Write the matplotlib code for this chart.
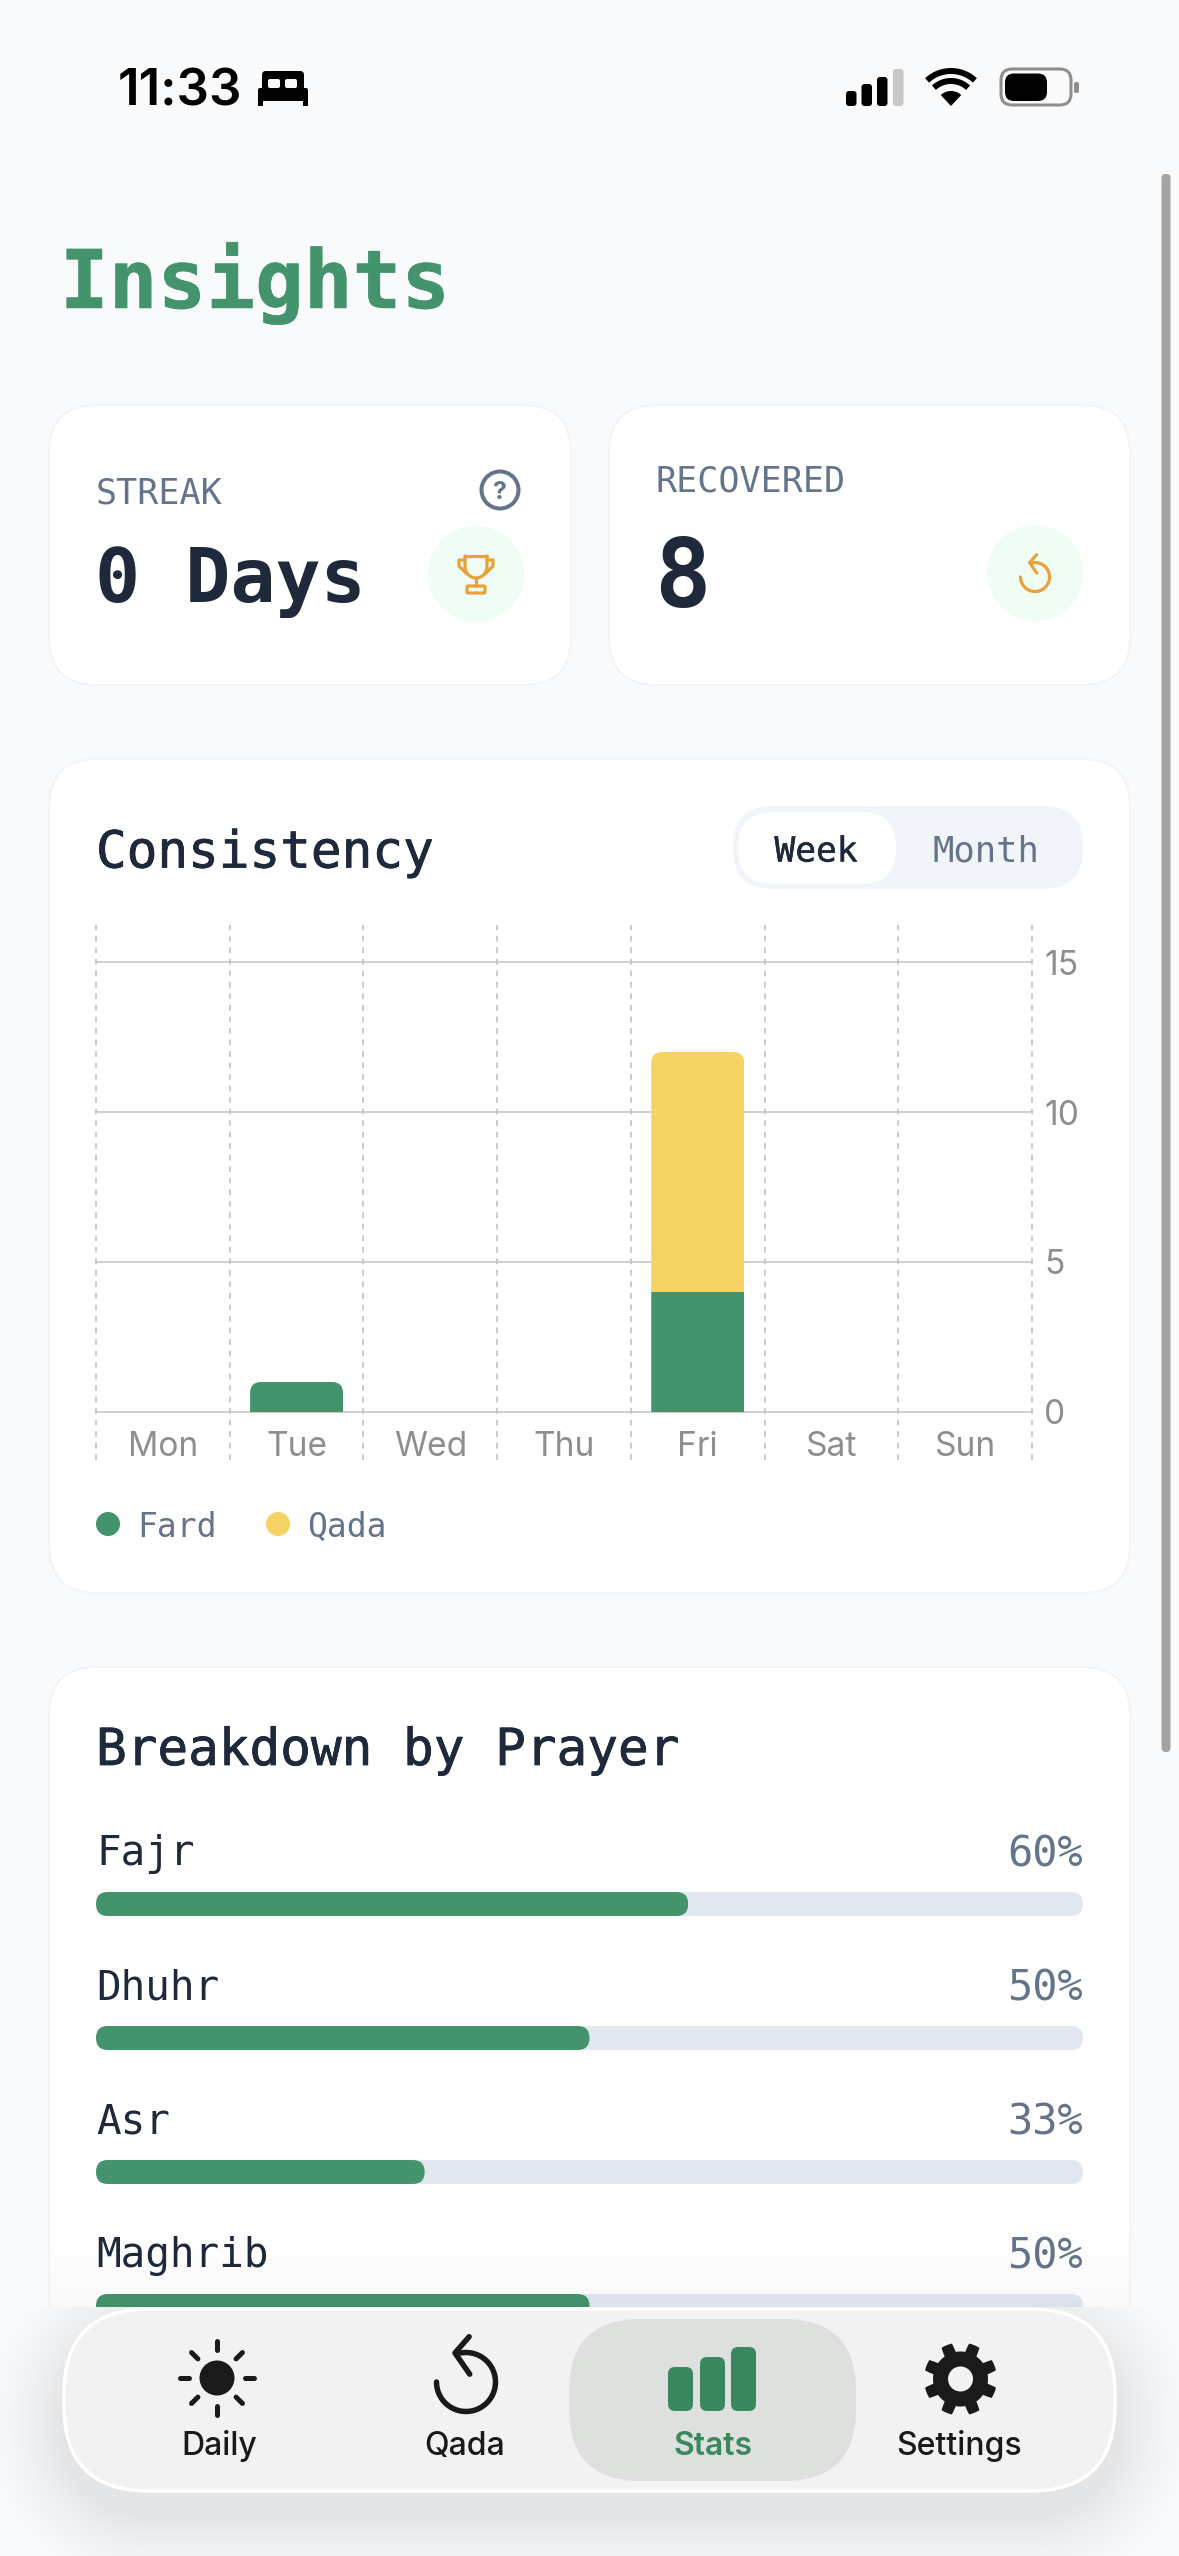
import numpy as np
import matplotlib
matplotlib.use("Agg")
import matplotlib.pyplot as plt
import matplotlib.patheffects as pe
from matplotlib.patches import FancyBboxPatch, Circle, Rectangle, Polygon

W, H = 1179, 2556
days = ["Mon", "Tue", "Wed", "Thu", "Fri", "Sat", "Sun"]
fard = [0, 1, 0, 0, 4, 0, 0]
qada = [0, 0, 0, 0, 8, 0, 0]
y_ticks = [0, 5, 10, 15]
prayers = ["Fajr", "Dhuhr", "Asr", "Maghrib"]
percents = [60, 50, 33.3, 50]
nav_labels = ["Daily", "Qada", "Stats", "Settings"]

MONO = "DejaVu Sans Mono"
SANS = "Inter"
BG = "#f8fafc"; INK = "#1e293b"; SLATE = "#64748b"; GREEN = "#43946c"; YEL = "#f5d365"
ORANGE = "#e9a23b"; DARK = "#1a1a1a"

fig = plt.figure(figsize=(W/72, H/72), dpi=72, facecolor=BG)

def px_axes(x0, y0, x1, y1, z):
    a = fig.add_axes([x0/W, 1-y1/H, (x1-x0)/W, (y1-y0)/H], zorder=z)
    a.patch.set_visible(False)
    return a

base = px_axes(0, 0, W, H, 0)
base.set_xlim(0, W); base.set_ylim(H, 0); base.axis("off")

def rbox(a, x0, y0, x1, y1, r, fc, ec="none", lw=0, z=1, **kw):
    p = FancyBboxPatch((x0, y0), x1-x0, y1-y0, boxstyle=f"round,pad=0,rounding_size={r}",
                       fc=fc, ec=ec, lw=lw, zorder=z, **kw)
    a.add_patch(p)
    return p

def line(a, xs, ys, c, lw, z=5):
    a.plot(xs, ys, color=c, lw=lw, solid_capstyle="round", solid_joinstyle="round", zorder=z)

def medium(t, w=0.8):
    t.set_path_effects([pe.withStroke(linewidth=w, foreground=t.get_color())])
    return t

# ---------- status bar
base.text(118, 106, "11:33", fontsize=51, family=SANS, weight=600, color="black", va="baseline", ha="left")
rbox(base, 262, 71, 304, 92, 4, "black")
rbox(base, 268, 79, 280, 88, 2, BG, z=2)
rbox(base, 285, 79, 297, 88, 2, BG, z=2)
rbox(base, 258, 88, 308, 101, 2, "black", z=3)
base.add_patch(Rectangle((258, 100), 5, 6, fc="black", lw=0))
base.add_patch(Rectangle((303, 100), 5, 6, fc="black", lw=0))
for bx, top_, col in [(846, 91, "black"), (861.5, 84, "black"), (877, 77, "black"), (893, 69, "#c8c8c8")]:
    rbox(base, bx, top_, bx+10.5, 106, 3, col)
cx, cy = 951, 106
th = np.radians(np.linspace(47, 133, 30))
base.add_patch(Polygon(np.r_[[[cx, cy]], np.c_[cx+15*np.cos(th), cy-15*np.sin(th)]], fc="black", lw=0))
for rr, lw_ in [(25, 6), (35, 6)]:
    base.plot(cx+rr*np.cos(th), cy-rr*np.sin(th), color="black", lw=lw_, solid_capstyle="butt")
rbox(base, 1001, 69, 1071, 105, 11, "none", ec="#8e8e8e", lw=3)
rbox(base, 1005, 73.5, 1047, 101, 9, "black")
rbox(base, 1074, 82, 1079, 93, 2, "#8e8e8e")

# scrollbar
rbox(base, 1161.5, 174, 1170.5, 1752, 4, "#a3a3a3", z=6)

# ---------- title
medium(base.text(60, 308, "Insights", fontsize=81, family=MONO, weight="bold", color=GREEN, va="baseline"), 0.5)

# ---------- cards
CARD_EC = "#f1f5f9"
rbox(base, 49, 405, 571, 685, 48, "white", ec=CARD_EC, lw=2)
rbox(base, 609, 405, 1130, 685, 48, "white", ec=CARD_EC, lw=2)
rbox(base, 49, 759, 1130, 1593, 48, "white", ec=CARD_EC, lw=2)
rbox(base, 49, 1667, 1130, 2600, 48, "white", ec=CARD_EC, lw=2)

base.text(96, 490, "STREAK", fontsize=35, family=MONO, color=SLATE, va="center_baseline")
base.text(656, 477.5, "RECOVERED", fontsize=35, family=MONO, color=SLATE, va="center_baseline")
base.text(95, 601.5, "0 Days", fontsize=75, family=MONO, weight="bold", color=INK, va="baseline")
base.text(654, 607, "8", fontsize=94, family=MONO, weight="bold", color=INK, va="baseline")
base.add_patch(Circle((500, 490), 18.5, fc="none", ec=SLATE, lw=4, zorder=4))
base.text(500, 490, "?", fontsize=25, family=SANS, weight="bold", color=SLATE, ha="center", va="center_baseline", zorder=4)
base.add_patch(Circle((476, 574), 48, fc="#f0fdf4", lw=0, zorder=3))
base.add_patch(Circle((1035, 573), 48, fc="#f0fdf4", lw=0, zorder=3))
# trophy
t = np.linspace(0, np.pi, 24)
line(base, np.r_[465, 465, 476-11*np.cos(t), 487, 487], np.r_[556, 566, 566+12*np.sin(t), 566, 556], ORANGE, 3.2)
line(base, [465, 487], [556, 556], ORANGE, 3.2)
line(base, [465, 459, 459, 467], [560, 560, 566, 574], ORANGE, 3.2)
line(base, [487, 493, 493, 485], [560, 560, 566, 574], ORANGE, 3.2)
line(base, [476, 476], [578, 586], ORANGE, 3.2)
rbox(base, 467, 586, 485, 593, 1, "none", ec=ORANGE, lw=3.2, z=5)
# undo
def undo(a, cx, cy, r, c, lw, z=5):
    t = np.radians(np.linspace(100, -180, 60))
    line(a, cx+r*np.cos(t), cy-r*np.sin(t), c, lw, z)
    tipx, tipy = cx+r*np.cos(np.radians(100))-r*0.02, cy-r*np.sin(np.radians(100))
    line(a, [tipx+r*0.3, tipx-r*0.18, tipx+r*0.32], [tipy-r*0.55, tipy, tipy+r*0.72], c, lw, z)
undo(base, 1035, 577, 14.5, ORANGE, 3.2)

# ---------- consistency header
medium(base.text(96, 848, "Consistency", fontsize=51, family=MONO, color=INK, va="center_baseline"))
rbox(base, 733, 806, 1083, 889, 40, "#f1f5f9", z=2)
rbox(base, 738, 812, 896, 884, 35, "white", z=3)
medium(base.text(816, 848, "Week", fontsize=34.5, family=MONO, color=INK, ha="center", va="center_baseline", zorder=4), 0.5)
base.text(986, 848, "Month", fontsize=35.5, family=MONO, color=SLATE, ha="center", va="center_baseline", zorder=4)

# ---------- stacked chart
AX0, AX1, AY0, AY1, Y0, PXU = 96, 1032, 925, 1460, 1412, 30
ax = px_axes(AX0, AY0, AX1, AY1, 1)
ax.set_xlim(-0.5, 6.5)
ax.set_ylim(-(AY1-Y0)/PXU, (Y0-AY0)/PXU)
for s in ax.spines.values():
    s.set_visible(False)
xstep = (AX1-AX0)/7
xpos = np.arange(len(days))
bw = 93/xstep
b1 = ax.bar(xpos, fard, bw, color=GREEN, zorder=3, lw=0)
b2 = ax.bar(xpos, qada, bw, bottom=fard, color=YEL, zorder=3, lw=0)
asp = (11/PXU)/(11/xstep)
for i in xpos:
    total = fard[i]+qada[i]
    if total == 0:
        continue
    clip = FancyBboxPatch((i-bw/2, -3), bw, total+3, boxstyle=f"round,pad=0,rounding_size={11/xstep}",
                          mutation_aspect=asp, transform=ax.transData)
    b1[i].set_clip_path(clip); b2[i].set_clip_path(clip)
ax.set_yticks(y_ticks)
ax.yaxis.tick_right()
ax.tick_params(axis="y", length=0, pad=12, labelsize=33.5, labelcolor="#8e8e8e", labelfontfamily=SANS)
ax.set_xticks(xpos)
ax.set_xticklabels(days)
ax.tick_params(axis="x", length=0, pad=-29, labelsize=33.5, labelcolor="#8e8e8e", labelfontfamily=SANS)
for yt in y_ticks:
    ax.plot([-0.5, 6.5], [yt, yt], color="#d0d0d0", lw=2, zorder=1, clip_on=False)
for xv in np.arange(-0.5, 7):
    ax.plot([xv, xv], ax.get_ylim(), color="#c6c6c6", lw=1.8, dashes=(3.2, 3.2), zorder=1, clip_on=False)

# legend
base.add_patch(Circle((108, 1524), 12, fc=GREEN, lw=0, zorder=3))
base.add_patch(Circle((278, 1524), 12, fc=YEL, lw=0, zorder=3))
base.text(137, 1524, "Fard", fontsize=33, family=MONO, color=SLATE, va="center_baseline")
base.text(307, 1524, "Qada", fontsize=33, family=MONO, color=SLATE, va="center_baseline")

# ---------- breakdown
medium(base.text(96, 1765, "Breakdown by Prayer", fontsize=51, family=MONO, color=INK, va="baseline"))
PX0, PX1, ROW0, ROWH, PAY0, PAY1 = 96, 1083, 1904, 134, 1820, 2330
pax = px_axes(PX0, PAY0, PX1, PAY1, 2)
pax.set_xlim(0, 100)
pax.set_ylim((PAY1-ROW0)/ROWH, (PAY0-ROW0)/ROWH)
pax.axis("off")
ux = (PX1-PX0)/100
ph = 24/ROWH
ypos = np.arange(len(prayers))
tracks = pax.barh(ypos, [100]*len(prayers), ph, color="#e2e7f0", lw=0, zorder=1)
fills = pax.barh(ypos, percents, ph, color=GREEN, lw=0, zorder=2)
asp2 = ux/ROWH
for i in ypos:
    for bar, v, r in [(tracks[i], 100, 12), (fills[i], percents[i], 12)]:
        clip = FancyBboxPatch((0, i-ph/2), v, ph, boxstyle=f"round,pad=0,rounding_size={r/ux}",
                              mutation_aspect=asp2, transform=pax.transData)
        bar.set_clip_path(clip)
    pax.text(0, i-54/ROWH, prayers[i], fontsize=41, family=MONO, color=INK, va="center_baseline", ha="left", clip_on=False)
    pax.text(100, i-54/ROWH, f"{percents[i]:.0f}%", fontsize=42, family=MONO, color=SLATE, va="center_baseline", ha="right", clip_on=False)

# ---------- bottom overlay and nav
top = px_axes(0, 0, W, H, 5)
top.set_xlim(0, W); top.set_ylim(H, 0); top.axis("off")
CUT = 2307
top.add_patch(Rectangle((0, CUT), W, H-CUT, fc=BG, lw=0, zorder=1))
grad = np.zeros((90, 2, 4)); grad[..., 3] = np.linspace(0, 0.025, 90)[:, None]
top.imshow(grad, extent=(49, 1130, CUT, CUT-90), aspect="auto", zorder=2, interpolation="bilinear")
NX0, NX1, NY0, NY1, NR = 62, 1117, 2307, 2493, 85
yy, xx = np.mgrid[CUT:H, 0:W]
cxn, cyn = (NX0+NX1)/2, (NY0+NY1)/2+22
qx = np.abs(xx-cxn)-(NX1-NX0)/2+NR
qy = np.abs(yy-cyn)-(NY1-NY0)/2+NR
d = np.hypot(np.maximum(qx, 0), np.maximum(qy, 0))+np.minimum(np.maximum(qx, qy), 0)-NR
sh = np.zeros(d.shape+(4,))
sh[..., 3] = 0.085*np.clip(1-np.maximum(d, 0)/85, 0, 1)**1.5
top.imshow(sh, extent=(0, W, H, CUT), aspect="auto", zorder=3)
top.set_xlim(0, W); top.set_ylim(H, 0)

rbox(top, NX0+2, NY0+2, NX1-2, NY1-2, NR, "#f2f2f2", ec="white", lw=3.5, z=4)
rbox(top, 569, 2319, 856, 2481, 72, "#dee0de", z=5)

sx, sy = 217, 2378
top.add_patch(Circle((sx, sy), 17.5, fc=DARK, lw=0, zorder=6))
for a_ in np.radians(np.arange(0, 360, 45)):
    rays = (27, 36) if int(round(np.degrees(a_))) % 90 else (28, 37)
    line(top, [sx+rays[0]*np.cos(a_), sx+rays[1]*np.cos(a_)], [sy+rays[0]*np.sin(a_), sy+rays[1]*np.sin(a_)], DARK, 5, 6)
undo(top, 466, 2382, 29.5, DARK, 5.5, 6)
for x0_, x1_, t_ in [(668, 693, 2367), (700, 725, 2357), (731, 756, 2347)]:
    rbox(top, x0_, t_, x1_, 2411, 7, "#3b8760", z=6)
gx, gy = 960.5, 2379
tg = np.linspace(0, 2*np.pi, 721)
rg = 27.5+9*np.clip(np.cos(8*tg+np.pi)*1.9+0.35, 0, 1)
top.add_patch(Polygon(np.c_[gx+rg*np.cos(tg), gy+rg*np.sin(tg)], fc=DARK, lw=0, zorder=6))
top.add_patch(Circle((gx, gy), 12.5, fc="#f2f2f2", lw=0, zorder=7))

for lab, xc, col in zip(nav_labels, [219, 465, 713, 959], [DARK, DARK, "#3b8760", DARK]):
    top.text(xc, 2443, lab, fontsize=32, family=SANS, weight=600 if lab == "Stats" else 500, color=col,
             ha="center", va="center_baseline", zorder=8)

fig.savefig("out.png", dpi=72, facecolor=BG)
